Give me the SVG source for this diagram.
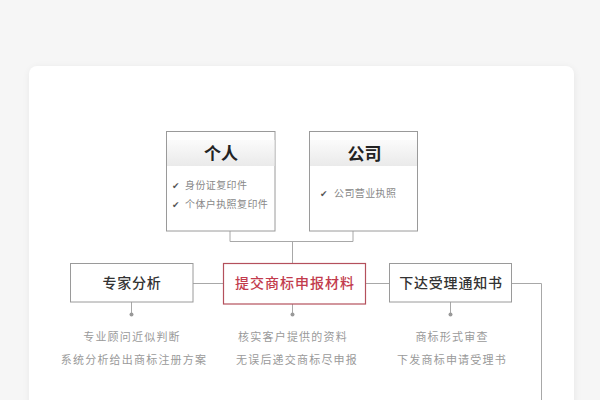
<svg xmlns="http://www.w3.org/2000/svg" width="600" height="400" viewBox="0 0 600 400">
<defs>
  <filter id="sh" x="-10%" y="-10%" width="120%" height="120%">
    <feGaussianBlur stdDeviation="4"/>
  </filter>
  <linearGradient id="hd" x1="0" y1="0" x2="0" y2="1">
    <stop offset="0" stop-color="#fbfbfb"/>
    <stop offset="1" stop-color="#eaeaea"/>
  </linearGradient>
  <style>
    .ff{font-family:"Noto Sans CJK SC","Liberation Sans",sans-serif;}
    .box{fill:#fff;stroke:#9a9a9a;stroke-width:1;}
    .red{fill:#fff;stroke:#b4505c;stroke-width:1.2;}
    .ln{fill:none;stroke:#a8a8a8;stroke-width:1;}
    .hd{font-size:17px;font-weight:bold;fill:#222;text-anchor:middle;}
    .it{font-size:10px;fill:#888;letter-spacing:0.4px;}
    .ck{font-size:9px;fill:#555;font-family:"DejaVu Sans",sans-serif;}
    .bt{font-size:14px;fill:#333;text-anchor:middle;letter-spacing:0.8px;font-weight:500;}
    .rt{font-size:14px;fill:#c23b4d;text-anchor:middle;letter-spacing:1px;font-weight:500;}
    .ds{font-size:11px;fill:#9a9a9a;text-anchor:middle;letter-spacing:1.2px;}
    .dot{fill:#999;}
  </style>
</defs>
<rect width="600" height="400" fill="#f6f6f6"/>
<rect x="30" y="68" width="544" height="360" rx="8" fill="#000" opacity="0.07" filter="url(#sh)"/>
<rect x="29" y="66" width="545" height="360" rx="8" fill="#fff"/>

<g id="connectors">
  <path class="ln" d="M230 231 V241.5 H353 V231"/>
  <path class="ln" d="M292.5 241.5 V263.5"/>
  <path class="ln" d="M193 283.5 H223.5"/>
  <path class="ln" d="M365.5 283.5 H389.5"/>
  <path class="ln" d="M511.5 283.5 H541.5 V400"/>
  <path class="ln" d="M131.5 302 V313"/>
  <path class="ln" d="M292.5 304 V313"/>
  <path class="ln" d="M450.5 302 V313"/>
  <circle class="dot" cx="131.5" cy="314.5" r="2"/>
  <circle class="dot" cx="292.5" cy="314.5" r="2"/>
  <circle class="dot" cx="450.5" cy="314.5" r="2"/>
</g>

<g id="geren" class="ff">
  <rect class="box" x="166.5" y="131.5" width="108.5" height="99.5"/>
  <rect x="167" y="140" width="107.5" height="26" fill="url(#hd)"/>
  <text class="hd" x="221" y="160">个人</text>
  <text class="ck" x="172" y="189">✔</text>
  <text class="it" x="185" y="189">身份证复印件</text>
  <text class="ck" x="172" y="208">✔</text>
  <text class="it" x="185" y="208">个体户执照复印件</text>
</g>

<g id="gongsi" class="ff">
  <rect class="box" x="309.5" y="131.5" width="108" height="99.5"/>
  <rect x="310" y="140" width="107" height="26" fill="url(#hd)"/>
  <text class="hd" x="364.5" y="160">公司</text>
  <text class="ck" x="320" y="197">✔</text>
  <text class="it" x="334" y="197">公司营业执照</text>
</g>

<g id="zhuanjia" class="ff">
  <rect class="box" x="70.5" y="263.5" width="122.5" height="38.5"/>
  <text class="bt" x="132" y="288">专家分析</text>
  <text class="ds" x="132" y="341">专业顾问近似判断</text>
  <text class="ds" x="134" y="364">系统分析给出商标注册方案</text>
</g>

<g id="tijiao" class="ff">
  <rect class="red" x="223.5" y="263.5" width="142" height="40.5"/>
  <text class="rt" x="295" y="288">提交商标申报材料</text>
  <text class="ds" x="293" y="341">核实客户提供的资料</text>
  <text class="ds" x="297" y="364">无误后递交商标尽申报</text>
</g>

<g id="xiada" class="ff">
  <rect class="box" x="389.5" y="263.5" width="122" height="38.5"/>
  <text class="bt" x="451" y="288">下达受理通知书</text>
  <text class="ds" x="452" y="341">商标形式审查</text>
  <text class="ds" x="452" y="364">下发商标申请受理书</text>
</g>
</svg>
